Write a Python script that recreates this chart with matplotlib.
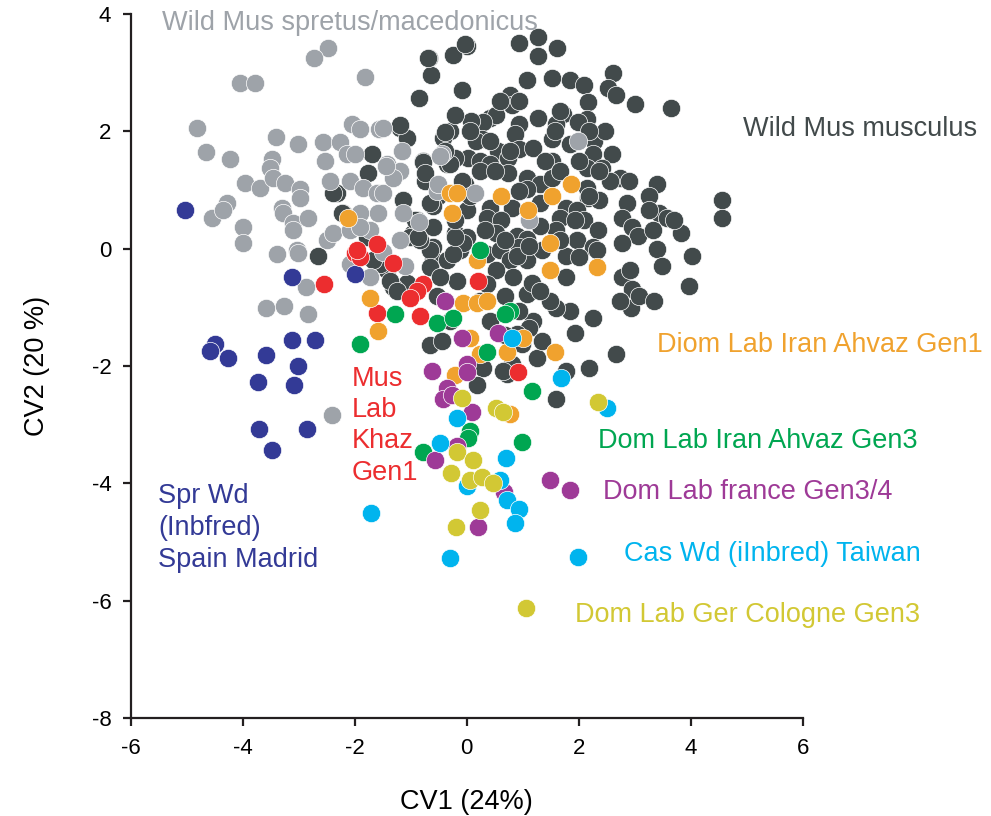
import matplotlib
matplotlib.use('Agg')
import matplotlib.pyplot as plt
from matplotlib import font_manager

plt.rcParams['font.family'] = ['Liberation Sans', 'DejaVu Sans']
plt.rcParams['axes.unicode_minus'] = False

# narrow face for tick labels if available
names = {f.name for f in font_manager.fontManager.ttflist}
tick_family = 'Liberation Sans Narrow' if 'Liberation Sans Narrow' in names else 'Liberation Sans'

# Wild Mus musculus (dark grey)
mus_x = [0.94, 1.27, 1.28, 1.62, 0.0, -0.25, -0.68, -0.64, -0.86, -0.09, 1.07, 1.53, 1.85, 2.1, 2.17,
         2.62, 2.53, 2.66, 3.01, 3.64, 0.78, 0.8, 1.27, 1.71, 2.14, 1.98, 0.41, 0.53, 0.29, 0.94,
         0.86, 1.6, -0.3, -0.43, 0.27, -1.19, -1.07, 1.52, 1.84, 2.28, 0.55, 0.94, 1.18, 0.02, -0.21,
         -0.36, 0.23, 0.41, 0.73, 1.53, 2.25, 2.6, 2.14, 2.42, -0.78, -0.75, 0.73, 1.07, 1.3, 1.53,
         2.73, 2.9, 2.55, 3.39, 3.26, -0.04, 0.23, 1.07, 2.14, 2.16, -0.52, -0.61, -1.14, 0.41, 0.8,
         1.3, 1.78, 1.96, 0.0, 2.87, 2.78, 3.44, 3.57, 4.56, 4.55, 0.36, 0.62, 1.66, 2.1, -0.89,
         -0.61, -0.96, -0.21, 0.0, 0.53, 0.89, 1.07, 1.6, 2.34, 2.96, 3.05, 3.32, 3.83, -0.61, -0.12,
         0.36, 0.59, 0.94, 1.96, 2.25, 2.78, 3.4, 4.03, 1.78, -0.61, -0.36, 0.77, 1.07,
         -0.66, 0.8, 0.71, 0.29, 0.18, 1.25, 1.6, 1.78, 2.19, 2.67, 2.25, 1.93, 1.84, 1.6, 1.48,
         1.18, 1.07, 1.16, 0.82, 0.53, -0.18, 0.36, 0.68, 2.78, 2.96, 2.94, 2.73, 1.78, 2.01, 2.32,
         1.35, 0.89, -0.07, -0.25, -0.66, -0.66, -1.07, -1.32, -1.43, -1.55, -0.53, -0.48, -1.02, -0.84,
         0.64, 0.98, 1.35, 1.12, 0.89,
         -0.04, -0.7, -1.19, -0.39, -1.69, -1.76, -0.78, -0.75, -0.3, -1.14, -0.66, -2.32, -2.21,
         -0.93, -0.87, -0.21, -2.66, -2.39, -2.23, -1.78, -1.68, -1.37, -1.25,
         0.07, 0.16, -0.09, 0.05, -0.21, 0.32, 0.68, 1.12, 1.3, 1.66, 1.93, 1.39, 1.66, 2.01, 2.37,
         2.37, 3.26, 3.71, 3.49, 3.08, 3.97, 3.35, 2.91, 0.23, 0.41, 0.68, 0.94, 1.3, -0.3, -0.45,
         -0.39, 0.77, 0.5, 0.94, 2.19, 2.46, 2.19, 1.57, 1.66, 0.59, 0.94, 0.05, 0.41, -0.39, -0.21]
mus_y = [3.51, 3.6, 3.29, 3.41, 3.46, 3.3, 3.25, 2.95, 2.57, 2.71, 2.88, 2.91, 2.88, 2.79, 2.5,
         3.0, 2.74, 2.62, 2.47, 2.4, 2.62, 2.44, 2.23, 2.3, 2.21, 2.15, 2.23, 2.27, 2.15, 2.13,
         1.96, 2.13, 2.01, 1.89, 1.87, 2.06, 1.89, 1.87, 1.79, 1.84, 1.67, 1.7, 1.72, 1.55, 1.55,
         1.45, 1.5, 1.45, 1.55, 1.5, 1.62, 1.62, 1.38, 1.38, 1.5, 1.16, 1.28, 1.21, 1.1, 1.21,
         1.21, 1.16, 1.16, 1.1, 0.9, 1.1, 1.33, 1.02, 1.04, 0.87, 0.9, 0.73, 0.82, 0.7, 0.7,
         0.77, 0.7, 0.65, 0.65, 0.77, 0.53, 0.61, 0.53, 0.82, 0.53, 0.53, 0.48, 0.53, 0.48, 0.48,
         0.36, 0.26, 0.26, 0.19, 0.26, 0.22, 0.17, 0.31, 0.31, 0.36, 0.22, 0.31, 0.26, 0.02, -0.03,
         -0.09, -0.03, 0.02, 0.14, 0.02, 0.09, 0.0, -0.12, -0.12, -0.2, -0.2, -0.2, -0.2,
         -1.65, -1.96, -2.13, -2.04, -2.33, -1.86, -2.56, -2.08, -2.04, -1.79, -1.18, -1.43, -1.06, -1.01, -0.89,
         -1.23, -0.77, -0.58, -0.49, -0.37, -0.55, -0.6, -0.8, -0.49, -0.68, -1.02, -0.89, -0.49, -0.15, -0.03,
         -0.03, -0.12, 0.09, -0.09, -0.03, -0.32, -0.58, -0.66, -0.37, -0.26, -0.8, -0.49, 0.19, 0.14,
         -2.08, -1.62, -1.57, -1.35, -1.45,
         3.49, 3.24, 2.1, 1.98, 1.62, 1.28, 1.47, 1.28, 1.45, 0.82, 0.77, 0.94, 0.6,
         0.48, 0.19, 0.19, -0.12, 0.94, 0.6, 0.19, -0.2, -0.55, -0.72,
         2.18, 1.84, 1.16, 0.9, 0.48, 0.31, 0.14, 0.05, 0.39, 0.14, 0.48, 1.5, 1.33, 1.5, 1.33,
         0.82, 0.65, 0.48, -0.29, -0.8, -0.63, -0.89, -0.37, -0.89, -1.23, -1.48, -1.06, -0.72, -1.23, -1.57,
         -0.89, 1.67, 1.33, 0.99, 0.9, 2.01, 2.01, 2.01, 2.35, 2.52, 2.52, 2.01, 1.84, 1.67, 2.27]

# Wild Mus spretus/macedonicus (light grey)
spr_x = [-2.48, -2.73, -4.05, -3.78, -1.82, -4.81, -4.65, -4.22, -3.4, -3.01, -3.48, -3.51, -3.96,
         -3.69, -3.46, -3.24, -2.98, -2.98, -4.28, -4.55, -4.35, -3.99, -3.99, -3.3, -3.28, -3.1,
         -2.83, -3.1, -2.57, -2.53, -2.44, -2.26, -2.05, -1.91, -1.57, -2.14, -2.0, -2.09, -1.85,
         -1.6, -1.5, -1.43, -1.19, -1.16, -1.32, -1.59, -1.91, -2.5, -2.39, -1.14, -1.19, -2.09,
         -1.73, -3.39, -3.03, -0.53, -0.45, -3.01, -2.87, -3.58, -3.26, -2.83, -2.41, -2.09, -1.73,
         -1.91, 1.98, 1.12, 0.14, -0.48, -0.52, -1.5, -1.1, -0.85, -1.5, -1.45]
spr_y = [3.41, 3.25, 2.83, 2.83, 2.93, 2.06, 1.64, 1.52, 1.91, 1.79, 1.52, 1.38, 1.12,
         1.04, 1.21, 1.12, 1.02, 0.87, 0.78, 0.53, 0.65, 0.36, 0.09, 0.7, 0.6, 0.43,
         0.53, 0.31, 1.81, 1.5, 1.16, 1.81, 2.13, 2.04, 2.04, 1.62, 1.62, 1.16, 1.04,
         0.94, 0.94, 1.45, 1.33, 1.67, 1.21, 0.6, 0.6, 0.14, 0.26, 0.6, 0.14, 0.31,
         0.31, -0.09, -0.03, 0.99, 1.62, -0.07, -0.66, -1.02, -0.97, -1.12, -2.84, -0.26, -0.49,
         0.36, 1.84, 0.48, 0.94, 1.58, 1.1, 2.06, -0.3, 0.45, -0.05, 1.4]

# Spr Wd (Inbfred) Spain Madrid
sprwd_x = [-5.03, -3.12, -2.0, -3.12, -2.71, -4.49, -4.58, -4.26, -3.58, -3.01, -3.73, -3.08, -3.71, -2.85, -3.48]
sprwd_y = [0.65, -0.48, -0.43, -1.55, -1.55, -1.62, -1.74, -1.86, -1.82, -2.0, -2.28, -2.33, -3.08, -3.08, -3.44]

# Mus Lab Khaz Gen1
khaz_x = [-1.6, -2.0, -1.9, -1.32, -0.78, -0.89, -1.02, 0.2, -1.6, -0.84, -2.55, 0.91, -1.96]
khaz_y = [0.08, -0.07, -0.15, -0.24, -0.6, -0.72, -0.85, -0.55, -1.1, -1.14, -0.6, -2.1, -0.03]

# Diom Lab Iran Ahvaz Gen1
ahv1_x = [-0.3, -0.18, -0.27, 0.62, 1.09, 1.53, 1.87, 1.48, 0.18, 2.32, -2.12, 1.48, -1.73, -0.07,
          0.18, 0.37, -1.59, 0.05, 1.0, 0.23, 0.71, 1.57, -0.21, 0.77]
ahv1_y = [0.94, 0.94, 0.6, 0.89, 0.65, 0.89, 1.1, 0.1, -0.2, -0.32, 0.53, -0.37, -0.85, -0.92,
          -0.92, -0.89, -1.4, -1.52, -1.52, -1.8, -1.77, -1.77, -2.16, -2.81]

# Dom Lab Iran Ahvaz Gen3
ahv3_x = [0.23, -1.28, -0.53, -0.25, 0.77, 0.68, -1.9, 0.37, 1.16, 0.05, 0.02, -0.78, 0.98]
ahv3_y = [-0.03, -1.11, -1.26, -1.19, -1.06, -1.11, -1.62, -1.77, -2.42, -3.1, -3.22, -3.47, -3.3]

# Dom Lab france Gen3/4
fra_x = [-0.39, -0.09, 0.55, -0.62, 0.0, 0.0, -0.36, -0.43, -0.27, 0.09, -0.18, -0.57, 0.66, 1.48, 1.85, 0.2]
fra_y = [-0.89, -1.52, -1.43, -2.08, -1.96, -2.11, -2.37, -2.56, -2.5, -2.79, -3.36, -3.61, -4.14, -3.95, -4.11, -4.75]

# Cas Wd (iInbred) Taiwan
cas_x = [0.8, 1.69, 2.51, -0.18, -0.48, 0.7, 0.0, 0.59, 0.71, 0.93, 0.86, -0.3, 1.98, -1.71]
cas_y = [-1.52, -2.2, -2.71, -2.88, -3.32, -3.56, -4.05, -3.95, -4.29, -4.43, -4.68, -5.28, -5.26, -4.5]

# Dom Lab Ger Cologne Gen3
ger_x = [-0.09, 0.53, 0.64, 2.34, -0.18, 0.11, -0.29, 0.05, 0.27, 0.46, 0.23, -0.2, 1.05]
ger_y = [-2.54, -2.71, -2.79, -2.62, -3.47, -3.61, -3.83, -3.95, -3.9, -4.0, -4.46, -4.74, -6.13]

fig, ax = plt.subplots(figsize=(9.91, 8.16), dpi=100)
fig.subplots_adjust(left=0.132, right=0.810, bottom=0.120, top=0.983)

s = 175
groups = [
    (mus_x, mus_y, '#424a4b'),
    (spr_x, spr_y, '#9ea3a9'),
    (sprwd_x, sprwd_y, '#333a96'),
    (khaz_x, khaz_y, '#ec2d2f'),
    (ahv1_x, ahv1_y, '#f0a22e'),
    (ahv3_x, ahv3_y, '#00a651'),
    (fra_x, fra_y, '#9e3a97'),
    (cas_x, cas_y, '#00b4ee'),
    (ger_x, ger_y, '#d2c834'),
]
for gx, gy, col in groups:
    ax.scatter(gx, gy, s=s, color=col, edgecolors='white', linewidths=0.5, zorder=3, clip_on=False)

# group labels
ax.text(-5.44, 3.85, 'Wild Mus spretus/macedonicus', color='#9ea3a9', fontsize=19.5, va='center')
ax.text(4.94, 2.04, 'Wild Mus musculus', color='#424a4b', fontsize=19.5, va='center')
ax.text(3.40, -1.65, 'Diom Lab Iran Ahvaz Gen1', color='#f0a22e', fontsize=19.5, va='center')
ax.text(2.34, -3.27, 'Dom Lab Iran Ahvaz Gen3', color='#00a651', fontsize=19.5, va='center')
ax.text(2.44, -4.14, 'Dom Lab france Gen3/4', color='#9e3a97', fontsize=19.5, va='center')
ax.text(2.80, -5.20, 'Cas Wd (iInbred) Taiwan', color='#00b4ee', fontsize=19.5, va='center')
ax.text(1.94, -6.24, 'Dom Lab Ger Cologne Gen3', color='#d2c834', fontsize=19.5, va='center')
ax.text(-5.51, -4.0, 'Spr Wd\n(Inbfred)\nSpain Madrid', color='#333a96', fontsize=19.5,
        va='top', linespacing=1.3)
ax.text(-2.05, -2.0, 'Mus\nLab\nKhaz\nGen1', color='#ec2d2f', fontsize=19.5,
        va='top', linespacing=1.26)

ax.set_xlim(-6, 6)
ax.set_ylim(-8, 4)
ax.set_xticks([-6, -4, -2, 0, 2, 4, 6])
ax.set_yticks([-8, -6, -4, -2, 0, 2, 4])
ax.spines['top'].set_visible(False)
ax.spines['right'].set_visible(False)
for sp in ['left', 'bottom']:
    ax.spines[sp].set_linewidth(1.6)
    ax.spines[sp].set_color('#231f20')
ax.tick_params(direction='out', length=6, width=1.6, color='#231f20', labelsize=16, pad=8)
for lab in ax.get_xticklabels() + ax.get_yticklabels():
    lab.set_family(tick_family)
ax.set_xlabel('CV1 (24%)', fontsize=19.5, labelpad=22)
ax.set_ylabel('CV2 (20 %)', fontsize=19.5, labelpad=30)

plt.savefig('out.png', dpi=100)
